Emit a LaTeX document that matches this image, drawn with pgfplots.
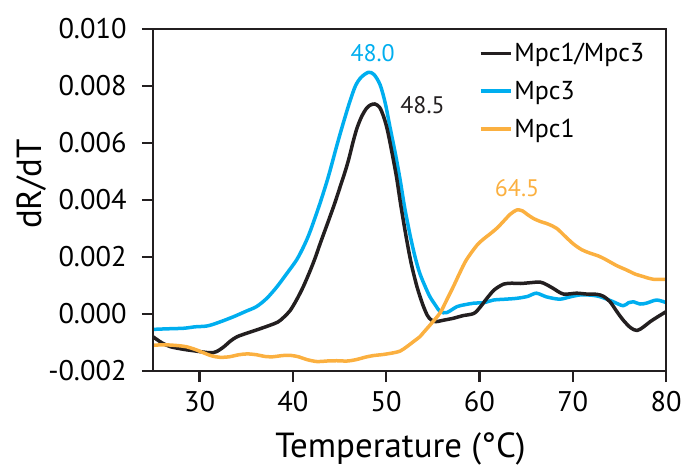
\documentclass[border=0pt]{standalone}
\usepackage{fontspec}
\setmainfont{PT Sans}
\usepackage{pgfplots}
\pgfplotsset{compat=1.18}
\definecolor{cblue}{HTML}{00AEEF}
\definecolor{corange}{HTML}{FBB040}
\definecolor{cblack}{HTML}{231F20}

\pgfplotstableread{
T y
25 -0.00080
26 -0.00102
26.9 -0.00115
28.3 -0.00124
29.6 -0.00130
31.1 -0.00136
31.8 -0.00132
32.6 -0.00115
33.3 -0.00095
34.0 -0.00080
35.0 -0.00068
36.1 -0.00056
37.5 -0.00040
38.4 -0.00028
39.0 -0.00012
39.7 0.00012
40.4 0.00050
41.1 0.00095
41.85 0.00152
42.4 0.00198
42.9 0.00245
43.4 0.00290
43.9 0.00335
44.5 0.00390
45.1 0.00450
45.6 0.00500
46.0 0.00545
46.5 0.00610
46.9 0.00655
47.4 0.00695
47.9 0.00722
48.3 0.00733
48.8 0.00737
49.3 0.00725
49.7 0.00695
50.1 0.00650
50.6 0.00570
51.1 0.00482
51.6 0.00375
52.2 0.00260
52.7 0.00175
53.3 0.00096
53.9 0.00035
54.4 -0.00004
54.8 -0.00020
55.3 -0.00027
56.1 -0.00022
57.2 -0.00015
58.2 -0.00006
59.4 0.00002
60.1 0.00025
60.8 0.00055
61.6 0.00085
62.6 0.00105
63.5 0.00108
64.4 0.00107
65.5 0.00110
66.5 0.00112
67.2 0.00103
67.9 0.00090
69.0 0.00070
70.4 0.00073
71.5 0.00070
72.6 0.00069
73.3 0.00062
74.0 0.00043
74.7 0.00010
75.4 -0.00021
76.2 -0.00048
76.9 -0.00058
77.6 -0.00045
78.3 -0.00027
79.2 -0.00008
80 0.00008
}\tblack

\pgfplotstableread{
T y
25 -0.00054
26.5 -0.00052
28.3 -0.00050
29.5 -0.00045
30.8 -0.00042
32 -0.00030
33.6 -0.00010
35 0.00010
36.1 0.00026
37.2 0.00055
38.3 0.00096
39.3 0.00140
40.4 0.00190
41.2 0.00240
41.85 0.00290
42.9 0.00388
43.8 0.00482
44.7 0.00590
45.4 0.00670
46.1 0.00745
46.7 0.00800
47.3 0.00830
48.1 0.00848
48.7 0.00840
49.35 0.00804
49.9 0.00740
50.4 0.00657
51.0 0.00560
51.5 0.00470
52.0 0.00370
52.6 0.00271
53.1 0.00200
53.6 0.00143
54.2 0.00095
54.7 0.00060
55.3 0.00030
55.8 0.00008
56.5 0.00005
57.6 0.00026
58.5 0.00033
59.4 0.00038
60.5 0.00040
61.5 0.00049
62.8 0.00052
64.0 0.00055
65.2 0.00062
66.1 0.00073
67.2 0.00060
68.6 0.00052
69.7 0.00060
70.8 0.00067
72.0 0.00066
72.9 0.00061
74.2 0.00045
75.4 0.00029
76.0 0.00040
76.5 0.00043
77.2 0.00035
77.9 0.00038
79.0 0.00049
80 0.00040
}\tblue

\pgfplotstableread{
T y
25 -0.00110
26 -0.00108
26.9 -0.00109
28 -0.00112
28.6 -0.00115
29.5 -0.00124
30.4 -0.00136
31.3 -0.00147
32.2 -0.00152
33.2 -0.00150
34.2 -0.00143
35.1 -0.00140
36.1 -0.00143
37.0 -0.00149
37.9 -0.00150
38.8 -0.00146
39.7 -0.00145
40.6 -0.00150
41.5 -0.00160
42.6 -0.00167
43.6 -0.00165
44.7 -0.00164
45.8 -0.00165
46.8 -0.00160
47.7 -0.00152
48.6 -0.00146
49.7 -0.00142
50.8 -0.00136
51.5 -0.00130
52.2 -0.00115
53.0 -0.00095
53.6 -0.00080
54.0 -0.00065
54.8 -0.00035
55.8 0.00005
56.5 0.00050
57.2 0.00096
57.9 0.00145
58.6 0.00190
59.7 0.00240
60.4 0.00262
61.1 0.00280
61.9 0.00302
62.6 0.00326
63.3 0.00350
64.0 0.00365
64.6 0.00362
65.1 0.00350
65.8 0.00335
66.5 0.00325
67.4 0.00315
68.3 0.00300
69.2 0.00272
70.1 0.00245
71.0 0.00225
71.9 0.00213
72.8 0.00203
73.6 0.00190
74.7 0.00170
75.8 0.00154
76.7 0.00140
77.6 0.00131
78.6 0.00122
80 0.00122
}\torange

\begin{document}
\begin{tikzpicture}
\useasboundingbox (-153bp,-95bp) rectangle (533bp,371bp);
\begin{axis}[
  scale only axis, width=513bp, height=342bp,
  xmin=25, xmax=80, ymin=-0.002, ymax=0.010,
  xtick={30,40,50,60,70,80},
  ytick={-0.002,0,0.002,0.004,0.006,0.008,0.010},
  scaled y ticks=false,
  /pgf/number format/assume math mode=true,
  tick label style={font=\fontsize{28.5}{33}\selectfont, text=black},
  yticklabel style={xshift=-12bp, /pgf/number format/.cd, fixed, fixed zerofill, precision=3},
  xticklabel style={yshift=-6bp},
  tick align=outside, major tick length=11bp,
  xtick pos=left, ytick pos=left,
  axis line style={line width=2.4bp, color=cblack},
  every tick/.style={line width=2.4bp, color=cblack},
  legend style={draw=none, fill=none, inner sep=0pt, at={(axis description cs:0.635,0.9645)}, anchor=north west, font=\fontsize{26}{30}\selectfont, row sep=14bp},
  legend cell align=left,
  legend image code/.code={\draw[#1, line width=3.5bp] (0bp,0bp) -- (30bp,0bp);},
  every axis plot/.append style={line width=3.5bp, line join=round},
]
\addlegendimage{cblack}
\addlegendentry{Mpc1/Mpc3}
\addlegendimage{cblue}
\addlegendentry{Mpc3}
\addlegendimage{corange}
\addlegendentry{Mpc1}
\addplot[cblue, smooth, forget plot] table[x=T, y=y] {\tblue};
\addplot[cblack, smooth, forget plot] table[x=T, y=y] {\tblack};
\addplot[corange, smooth, forget plot] table[x=T, y=y] {\torange};
\node[text=cblue, font=\fontsize{24}{28}\selectfont] at (axis cs:48.55,0.00915) {48.0};
\node[text=cblack, font=\fontsize{24}{28}\selectfont] at (axis cs:53.9,0.00733) {48.5};
\node[text=corange, font=\fontsize{24}{28}\selectfont] at (axis cs:64.03,0.0044) {64.5};
\end{axis}
\draw[line width=2.4bp, color=cblack] (0bp,0bp) rectangle (513bp,342bp);
\node[font=\fontsize{35}{40}\selectfont, anchor=base] at (247.5bp,-86bp) {Temperature (°C)};
\node[font=\fontsize{35}{40}\selectfont, anchor=base, rotate=90] at (-111bp,187bp) {dR/dT};
\end{tikzpicture}
\end{document}
